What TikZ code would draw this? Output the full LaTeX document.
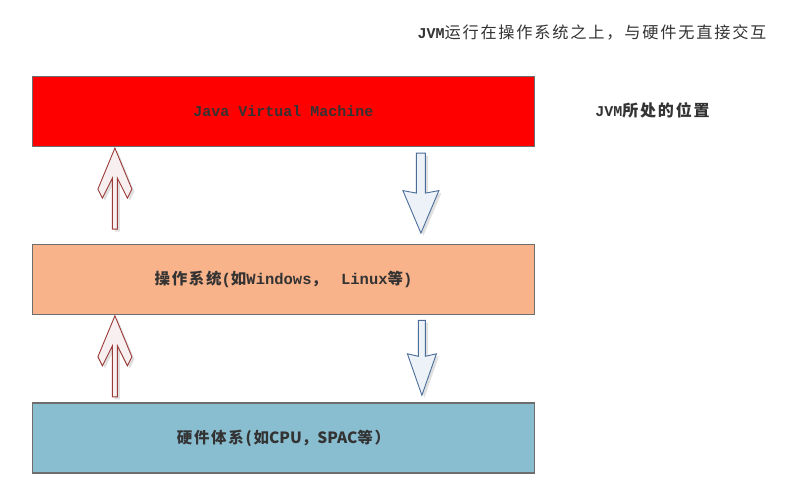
\documentclass[tikz,border=0pt]{standalone}
\usepackage{fontspec}
\newfontfamily\cjk[LetterSpace=11]{Noto Sans CJK SC}
\newfontfamily\cjkplain{Noto Sans CJK SC}
\newfontfamily\mono{Liberation Mono}
\usetikzlibrary{calc,positioning}
\definecolor{jvmred}{HTML}{FF0000}
\definecolor{ospeach}{HTML}{F9B38A}
\definecolor{hwblue}{HTML}{89BED1}
\definecolor{boxline}{HTML}{6E6E6E}
\definecolor{txtgray}{HTML}{333333}
\definecolor{upline}{HTML}{9A3B39}
\definecolor{upfill}{HTML}{F8F0F0}
\definecolor{dnline}{HTML}{4A6D99}
\definecolor{dnfill}{HTML}{EDF1F8}
\tikzset{
  layer/.style={draw=boxline, line width=1.2pt, minimum width=502pt, minimum height=70pt,
    inner sep=0pt, text=txtgray, font=\bfseries},
  upblock/.style={draw=upline, fill=upfill, line width=0.9pt, line join=miter},
  dnblock/.style={draw=dnline, fill=dnfill, line width=0.9pt, line join=miter},
  shade/.style={fill=black!12, draw=none},
  note/.style={text=txtgray, inner sep=0pt}
}
% block arrow outlines, tip at (0,0)
\newcommand{\uppath}{(0,0) -- (17,41) -- (12.5,50) -- (2.5,30) -- (2.5,81) -- (-2.5,81) -- (-2.5,30) -- (-12.5,50) -- (-17,41) -- cycle}
\newcommand{\dnpath}[4]{(-#1,0) -- (#1,0) -- (#1,#3) -- (#2,#3-2.5) -- (0,#4) -- (-#2,#3-2.5) -- (-#1,#3) -- cycle}

\begin{document}
\begin{tikzpicture}[x=1pt, y=-1pt]
\useasboundingbox (0,0) rectangle (795,492);

% the three layers
\node[layer, fill=jvmred] (jvm) at (283.5,111.5) {\mono\fontsize{15}{18}\selectfont\bfseries Java Virtual Machine};
\node[layer, fill=ospeach, below=97pt of jvm] (os) {\cjk\fontsize{15.5}{18}\selectfont\bfseries 操作系统{\mono\bfseries(}如{\mono\bfseries Windows}，\hspace{14pt}{\mono\bfseries Linux}等{\mono\bfseries)}};
\node[layer, fill=hwblue, below=87pt of os] (hw) {\cjk\fontsize{15.5}{18}\selectfont\bfseries 硬件体系(如{\cjkplain\bfseries CPU}，{\cjkplain\bfseries SPAC}等）};

% notes on the right
\node[note] (note1) at (592,32) {{\mono\fontsize{15}{18}\selectfont\bfseries JVM}{\cjk\fontsize{16.2}{18}\selectfont 运行在操作系统之上，与硬件无直接交互}};
\node[note] (note2) at (652.5,110) {{\mono\fontsize{15}{18}\selectfont\bfseries JVM}{\cjk\fontsize{16}{18}\selectfont\bfseries 所处的位置}};

% arrow anchors
\coordinate (up1) at ($(jvm.south west)+(83,1)$);
\coordinate (up2) at ($(os.south west)+(83,0.5)$);
\coordinate (dn1) at ($(jvm.south west)+(389,6)$);
\coordinate (dn2) at ($(os.south west)+(390,5)$);

% shadows
\fill[shade, shift={($(up1)+(2.5,2.5)$)}] \uppath;
\fill[shade, shift={($(up2)+(2.5,2.5)$)}] \uppath;
\fill[shade, shift={($(dn1)+(2.5,2.5)$)}] \dnpath{4.5}{18}{40}{80};
\fill[shade, shift={($(dn2)+(2.5,2.5)$)}] \dnpath{3.5}{14.5}{36}{75};

% up arrows (hardware -> os -> jvm)
\draw[upblock, shift={(up1)}] \uppath;
\draw[upblock, shift={(up2)}] \uppath;

% down arrows (jvm -> os -> hardware)
\draw[dnblock, shift={(dn1)}] \dnpath{4.5}{18}{40}{80};
\draw[dnblock, shift={(dn2)}] \dnpath{3.5}{14.5}{36}{75};

\end{tikzpicture}
\end{document}
